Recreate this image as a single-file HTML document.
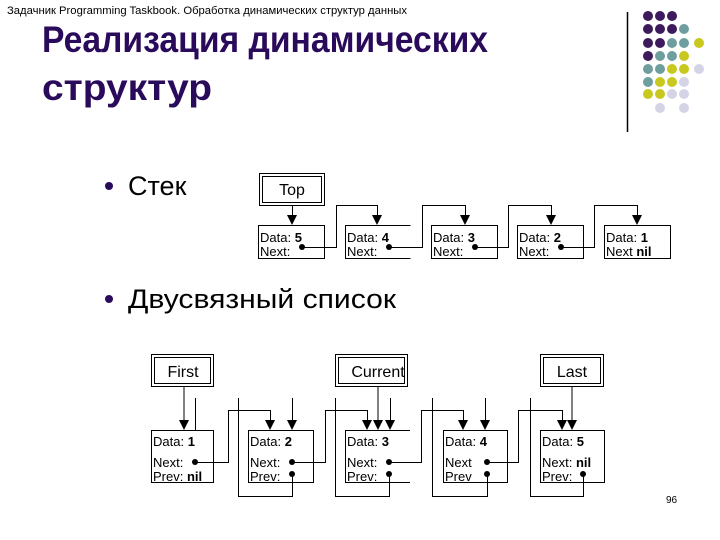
<!DOCTYPE html>
<html><head><meta charset="utf-8"><style>
html,body{margin:0;padding:0;background:#fff;width:720px;height:540px;overflow:hidden}
svg{display:block}
text{font-family:"Liberation Sans",Arial,sans-serif}
</style></head><body>
<svg width="720" height="540" viewBox="0 0 720 540" xmlns="http://www.w3.org/2000/svg">
<text x="7" y="14" font-size="11" fill="#000" textLength="400" lengthAdjust="spacingAndGlyphs">Задачник Programming Taskbook. Обработка динамических структур данных</text>
<text x="42" y="52" font-size="37" font-weight="bold" fill="#2a0a5a" textLength="446" lengthAdjust="spacingAndGlyphs">Реализация динамических</text>
<text x="42" y="100" font-size="37" font-weight="bold" fill="#2a0a5a" textLength="170" lengthAdjust="spacingAndGlyphs">структур</text>
<line x1="627.5" y1="12" x2="627.5" y2="132" stroke="#000" stroke-width="1.5"/>
<g>
<circle cx="648" cy="16" r="5" fill="#3d1a5c"/><circle cx="660" cy="16" r="5" fill="#3d1a5c"/><circle cx="672" cy="16" r="5" fill="#3d1a5c"/>
<circle cx="648" cy="29" r="5" fill="#3d1a5c"/><circle cx="660" cy="29" r="5" fill="#3d1a5c"/><circle cx="672" cy="29" r="5" fill="#3d1a5c"/><circle cx="684" cy="29" r="5" fill="#6f9e9e"/>
<circle cx="648" cy="43" r="5" fill="#3d1a5c"/><circle cx="660" cy="43" r="5" fill="#3d1a5c"/><circle cx="672" cy="43" r="5" fill="#6f9e9e"/><circle cx="684" cy="43" r="5" fill="#6f9e9e"/><circle cx="699" cy="43" r="5" fill="#c8c81e"/>
<circle cx="648" cy="56" r="5" fill="#3d1a5c"/><circle cx="660" cy="56" r="5" fill="#6f9e9e"/><circle cx="672" cy="56" r="5" fill="#6f9e9e"/><circle cx="684" cy="56" r="5" fill="#c8c81e"/>
<circle cx="648" cy="69" r="5" fill="#6f9e9e"/><circle cx="660" cy="69" r="5" fill="#6f9e9e"/><circle cx="672" cy="69" r="5" fill="#c8c81e"/><circle cx="684" cy="69" r="5" fill="#c8c81e"/><circle cx="699" cy="69" r="5" fill="#d4d4e6"/>
<circle cx="648" cy="82" r="5" fill="#6f9e9e"/><circle cx="660" cy="82" r="5" fill="#c8c81e"/><circle cx="672" cy="82" r="5" fill="#c8c81e"/><circle cx="684" cy="82" r="5" fill="#d4d4e6"/>
<circle cx="648" cy="94" r="5" fill="#c8c81e"/><circle cx="660" cy="94" r="5" fill="#c8c81e"/><circle cx="672" cy="94" r="5" fill="#d4d4e6"/><circle cx="684" cy="94" r="5" fill="#d4d4e6"/>
<circle cx="660" cy="108" r="5" fill="#d4d4e6"/><circle cx="684" cy="108" r="5" fill="#d4d4e6"/>
</g>
<circle cx="109" cy="186" r="4" fill="#2a0a5a"/>
<text x="128" y="195" font-size="27">Стек</text>
<circle cx="109" cy="299" r="4" fill="#2a0a5a"/>
<text x="128" y="308" font-size="27" textLength="268" lengthAdjust="spacingAndGlyphs">Двусвязный список</text>

<g stroke="#000" stroke-width="1" fill="none">
<rect x="259.5" y="173.5" width="65" height="32"/><rect x="262.5" y="176.5" width="59" height="26"/>
<line x1="292.5" y1="205" x2="292.5" y2="216"/>
<rect x="258.5" y="225.5" width="66" height="33"/>
<path d="M345 225.5H410.5M345 258.5H410.5M345.5 225V259"/>
<rect x="431.5" y="225.5" width="66" height="33"/>
<rect x="517.5" y="225.5" width="66" height="33"/>
<rect x="604.5" y="225.5" width="66" height="33"/>
<path d="M302 247.5H336.5V205.5H377.5V216"/>
<path d="M389 247.5H422.5V205.5H465.5V216"/>
<path d="M475 247.5H508.5V205.5H551.5V216"/>
<path d="M561 247.5H594.5V205.5H637.5V216"/>
<rect x="151.5" y="354.5" width="62" height="32"/><rect x="154.5" y="357.5" width="56" height="26"/>
<rect x="335.5" y="354.5" width="72" height="32"/><rect x="338.5" y="357.5" width="66" height="26"/>
<rect x="540.5" y="354.5" width="63" height="32"/><rect x="543.5" y="357.5" width="57" height="26"/>
<rect x="151.5" y="430.5" width="62" height="52"/>
<rect x="248.5" y="430.5" width="65" height="52"/>
<path d="M345 430.5H410M345 482.5H410M345.5 430V483"/>
<rect x="443.5" y="430.5" width="64" height="52"/>
<rect x="540.5" y="430.5" width="64" height="52"/>
<line x1="184" y1="386" x2="184" y2="420"/>
<line x1="195.5" y1="398" x2="195.5" y2="430"/>
<line x1="378" y1="386" x2="378" y2="420"/>
<line x1="572" y1="386" x2="572" y2="420"/>
<path d="M195 462.5H228.5V410.5H270.5V420"/>
<path d="M292 462.5H325.5V410.5H367.5V420"/>
<path d="M389 462.5H421.5V410.5H463.5V420"/>
<path d="M487 462.5H518.5V410.5H562.5V420"/>
<line x1="292.5" y1="398" x2="292.5" y2="420"/>
<line x1="390.5" y1="398" x2="390.5" y2="420"/>
<line x1="485.5" y1="398" x2="485.5" y2="420"/>
<path d="M292.5 474V496.5H238.5V398"/>
<path d="M389.5 474V496.5H335.5V398"/>
<path d="M487.5 474V496.5H432.5V398"/>
<path d="M583.5 474V496.5H530.5V398"/>
</g>
<g fill="#000">
<polygon points="287,215 297,215 292,225"/>
<polygon points="372,215 382,215 377,225"/>
<polygon points="460,215 470,215 465,225"/>
<polygon points="546,215 556,215 551,225"/>
<polygon points="632,215 642,215 637,225"/>
<circle cx="302" cy="247" r="3"/><circle cx="389" cy="247" r="3"/><circle cx="475" cy="247" r="3"/><circle cx="561" cy="247" r="3"/>
<polygon points="179,420 189,420 184,430"/>
<polygon points="265,420 275,420 270,430"/><polygon points="287,420 297,420 292,430"/>
<polygon points="362,420 372,420 367,430"/><polygon points="373,420 383,420 378,430"/><polygon points="385,420 395,420 390,430"/>
<polygon points="458,420 468,420 463,430"/><polygon points="480,420 490,420 485,430"/>
<polygon points="557,420 567,420 562,430"/><polygon points="567,420 577,420 572,430"/>
<circle cx="195" cy="462" r="3"/><circle cx="292" cy="462" r="3"/><circle cx="389" cy="462" r="3"/><circle cx="487" cy="462" r="3"/>
<circle cx="292" cy="474" r="3"/><circle cx="389" cy="474" r="3"/><circle cx="487" cy="474" r="3"/><circle cx="583" cy="474" r="3"/>
</g>
<g font-size="16" text-anchor="middle">
<text x="292" y="195">Top</text>
<text x="183" y="377">First</text>
<text x="378" y="377">Current</text>
<text x="572" y="377">Last</text>
</g>
<g font-size="13">
<text x="260" y="242">Data: <tspan font-weight="bold">5</tspan></text><text x="260" y="256">Next:</text>
<text x="347" y="242">Data: <tspan font-weight="bold">4</tspan></text><text x="347" y="256">Next:</text>
<text x="433" y="242">Data: <tspan font-weight="bold">3</tspan></text><text x="433" y="256">Next:</text>
<text x="519" y="242">Data: <tspan font-weight="bold">2</tspan></text><text x="519" y="256">Next:</text>
<text x="606" y="242">Data: <tspan font-weight="bold">1</tspan></text><text x="606" y="256">Next <tspan font-weight="bold">nil</tspan></text>
<text x="153" y="446">Data: <tspan font-weight="bold">1</tspan></text><text x="153" y="467">Next:</text><text x="153" y="481">Prev: <tspan font-weight="bold">nil</tspan></text>
<text x="250" y="446">Data: <tspan font-weight="bold">2</tspan></text><text x="250" y="467">Next:</text><text x="250" y="481">Prev:</text>
<text x="347" y="446">Data: <tspan font-weight="bold">3</tspan></text><text x="347" y="467">Next:</text><text x="347" y="481">Prev:</text>
<text x="445" y="446">Data: <tspan font-weight="bold">4</tspan></text><text x="445" y="467">Next</text><text x="445" y="481">Prev</text>
<text x="542" y="446">Data: <tspan font-weight="bold">5</tspan></text><text x="542" y="467">Next: <tspan font-weight="bold">nil</tspan></text><text x="542" y="481">Prev:</text>
</g>
<text x="666" y="503" font-size="10">96</text>
</svg>
</body></html>
